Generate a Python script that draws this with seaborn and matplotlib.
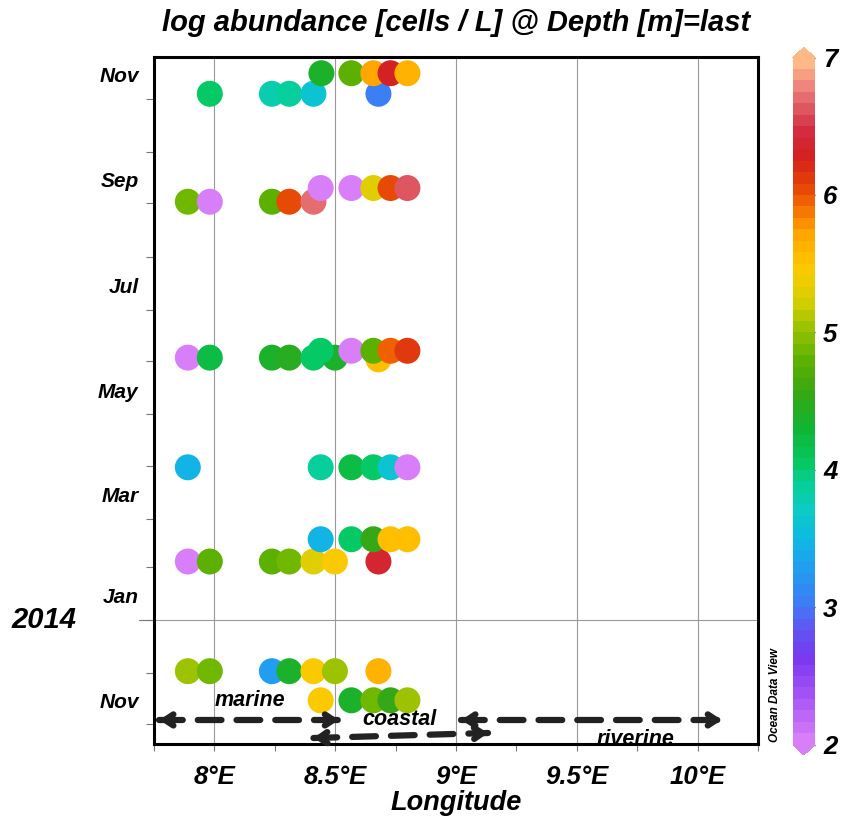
import pandas as pd
import seaborn as sns
import matplotlib.pyplot as plt
import matplotlib.dates as mdates
import matplotlib.transforms as mtransforms
from matplotlib.colors import LinearSegmentedColormap, Normalize
from matplotlib.ticker import MultipleLocator, NullFormatter, FuncFormatter

# sampling data, in drawing order
lon = [7.890, 7.981, 8.238, 8.310, 8.410, 8.499, 8.679,
       8.440, 8.567, 8.658, 8.729, 8.799,
       7.890, 7.981, 8.238, 8.310, 8.410, 8.499, 8.679,
       8.440, 8.567, 8.658, 8.729, 8.799,
       7.890, 8.440, 8.567, 8.658, 8.729, 8.799,
       7.890, 7.981, 8.238, 8.310, 8.410, 8.499, 8.679,
       8.440, 8.567, 8.658, 8.729, 8.799,
       7.890, 7.981, 8.238, 8.310, 8.410,
       8.440, 8.567, 8.658, 8.729, 8.799,
       7.981, 8.238, 8.310, 8.410, 8.679,
       8.443, 8.567, 8.658, 8.729, 8.799]
date = (["2013-12-02"] * 7 + ["2013-11-15"] * 5
        + ["2014-02-04"] * 7 + ["2014-02-17"] * 5
        + ["2014-03-31"] * 6
        + ["2014-06-03"] * 6 + ["2014-06-02"]
        + ["2014-06-07"] * 5
        + ["2014-09-02"] * 5 + ["2014-09-10"] * 5
        + ["2014-11-04"] * 5 + ["2014-11-16"] * 5)
log_abund = [5.0, 4.9, 3.3, 4.4, 5.45, 5.05, 5.65,
             5.45, 4.4, 4.9, 4.55, 5.0,
             2.0, 4.75, 4.75, 4.9, 5.3, 5.45, 6.35,
             3.45, 4.05, 4.55, 5.5, 5.55,
             3.45, 3.9, 4.2, 4.0, 3.6, 2.0,
             2.0, 4.2, 4.35, 4.45, 4.05, 4.4, 5.5,
             4.0, 2.0, 4.8, 5.95, 6.15,
             4.85, 2.0, 4.8, 6.05, 6.7,
             2.0, 2.0, 5.25, 6.05, 6.6,
             4.05, 3.8, 3.9, 3.6, 3.05,
             4.4, 4.8, 5.7, 6.3, 5.65]

df = pd.DataFrame({"lon": lon, "date": pd.to_datetime(date), "value": log_abund})

# ODV-like colour map
stops = [0, 0.06, 0.12, 0.17, 0.2, 0.26, 0.3, 0.34, 0.38, 0.41, 0.46, 0.51,
         0.56, 0.6, 0.65, 0.7, 0.75, 0.79, 0.82, 0.86, 0.9, 0.94, 0.97, 1.0]
colors = ["#d87ef8", "#a855f5", "#7a38f0", "#5a5cf2", "#3e7cf5", "#1ea2ee",
          "#0cbce0", "#0ccbc4", "#06d092", "#05c860", "#10b432", "#36a816",
          "#5cb000", "#8ec000", "#d8d000", "#ffc800", "#ffa400", "#f46800",
          "#e44208", "#d42020", "#d42c40", "#e06068", "#f08c80", "#ffb888"]
cmap = LinearSegmentedColormap.from_list("odv", list(zip(stops, colors))).resampled(60)
norm = Normalize(2, 7)

sns.set_style("white")
plt.rcParams["font.family"] = ["Liberation Sans", "DejaVu Sans"]
plt.rcParams["text.color"] = "black"
plt.rcParams["axes.labelcolor"] = "black"
font = dict(weight="bold", style="italic")

fig = plt.figure(figsize=(8.42, 8.23), dpi=100)
ax = fig.add_axes([0.1829, 0.096, 0.7173, 0.8348])
cax = fig.add_axes([0.9418, 0.0826, 0.026, 0.86])

sns.scatterplot(data=df, x="lon", y="date", hue="value", palette=cmap, hue_norm=norm,
                s=350, linewidth=0, legend=False, ax=ax, zorder=3)

# axes limits and grid
ax.set_xlim(7.75, 10.25)
ax.set_ylim(pd.Timestamp("2013-10-20 12:00"), pd.Timestamp("2014-11-25 12:00"))
for x in [8, 8.5, 9, 9.5, 10]:
    ax.axvline(x, color="#999999", lw=0.8, zorder=1)
jan1 = pd.Timestamp("2014-01-01")
ax.axhline(jan1, color="#999999", lw=0.8, zorder=1)

# x ticks
ax.xaxis.set_major_locator(MultipleLocator(0.5))
ax.xaxis.set_minor_locator(MultipleLocator(0.25))
ax.xaxis.set_major_formatter(FuncFormatter(lambda v, p: f"{v:g}°E"))
ax.tick_params(axis="x", which="both", length=5, width=0.8, color="#777777",
               direction="out", pad=10, bottom=True, labelcolor="black")
ax.set_xlabel("Longitude", fontsize=19.5, labelpad=1, **font)
ax.set_ylabel("")

# y ticks: month boundaries, labels mid-month
ax.yaxis.set_major_locator(mdates.MonthLocator())
ax.yaxis.set_major_formatter(NullFormatter())
ax.yaxis.set_minor_locator(mdates.MonthLocator(bymonth=[1, 3, 5, 7, 9, 11], bymonthday=15))
ax.yaxis.set_minor_formatter(mdates.DateFormatter("%b"))
ax.tick_params(axis="y", which="major", length=6, width=0.8, color="#777777",
               direction="out", left=True)
ax.tick_params(axis="y", which="minor", length=0, pad=11, left=True, labelcolor="black")
for lab in ax.get_xticklabels():
    lab.set_fontsize(18.5)
    lab.set_fontweight("bold")
    lab.set_fontstyle("italic")
for lab in ax.yaxis.get_minorticklabels():
    lab.set_fontsize(15)
    lab.set_fontweight("bold")
    lab.set_fontstyle("italic")

trans = mtransforms.blended_transform_factory(ax.transAxes, ax.transData)
ax.plot([-0.025, 0], [jan1, jan1], transform=trans, clip_on=False, color="#777777", lw=0.8)
ax.text(-0.129, jan1, "2014", transform=trans, ha="right", va="center", fontsize=21, **font)

for side in ax.spines.values():
    side.set_linewidth(2.2)
    side.set_color("black")

# region arrows
def dashed_arrow(p0, p1):
    ax.plot([p0[0], p1[0]], [p0[1], p1[1]], transform=ax.transAxes, color="#222222",
            lw=4.5, ls=(0, (3.8, 2.4)), dash_capstyle="round", clip_on=False, zorder=4)
    for a, b in [(p0, p1), (p1, p0)]:
        ax.annotate("", xy=a, xytext=(a[0] + (b[0] - a[0]) * 0.05, a[1] + (b[1] - a[1]) * 0.05),
                    xycoords="axes fraction", textcoords="axes fraction",
                    arrowprops=dict(arrowstyle="->,head_length=0.6,head_width=0.4",
                                    lw=4.5, color="#222222", shrinkA=0, shrinkB=0,
                                    capstyle="round", joinstyle="round"), zorder=4)

dashed_arrow((0.009, 0.035), (0.306, 0.035))
dashed_arrow((0.509, 0.035), (0.94, 0.035))
dashed_arrow((0.264, 0.0087), (0.553, 0.016))
ax.text(0.159, 0.064, "marine", transform=ax.transAxes, ha="center", va="center",
        fontsize=15.5, **font)
ax.text(0.407, 0.035, "coastal", transform=ax.transAxes, ha="center", va="center",
        fontsize=15.5, **font)
ax.text(0.798, 0.006, "riverine", transform=ax.transAxes, ha="center", va="center",
        fontsize=15.5, clip_on=True, **font)

# colour bar
sm = plt.cm.ScalarMappable(norm=norm, cmap=cmap)
cb = fig.colorbar(sm, cax=cax, extend="both", extendfrac=0.015)
cb.set_ticks([2, 3, 4, 5, 6, 7])
cb.outline.set_linewidth(0)
cax.tick_params(left=True, right=True, direction="in", length=4, width=1,
                color="#333333", labelleft=False, labelright=True, pad=6,
                labelcolor="black")
for lab in cax.get_yticklabels():
    lab.set_fontsize(18.5)
    lab.set_fontweight("bold")
    lab.set_fontstyle("italic")

fig.text(456 / 842, 1 - 23 / 823, "log abundance [cells / L] @ Depth [m]=last",
         ha="center", va="center", fontsize=21, **font)
fig.text(775 / 842, 81 / 823, "Ocean Data View", rotation=90, ha="center", va="bottom",
         fontsize=8.5, **font)

plt.savefig("out.png", dpi=100)
